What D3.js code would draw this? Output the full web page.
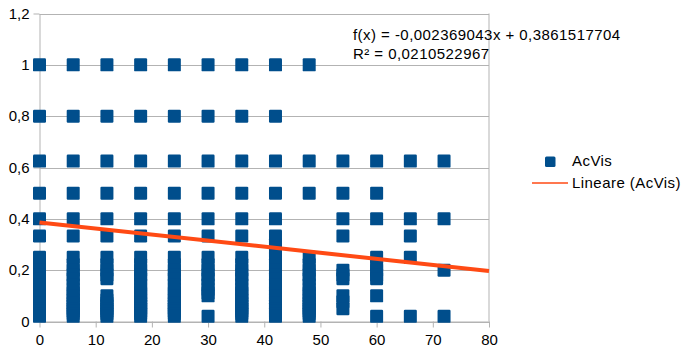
<!DOCTYPE html>
<html>
<head>
<meta charset="utf-8">
<script src="https://cdn.jsdelivr.net/npm/d3@7"></script>
<style>
	body { margin: 0; background: #fff; }
	svg { display: block; font-family: "Liberation Sans", Arial, sans-serif; }
</style>
</head>
<body>
<svg width="683" height="349"></svg>
<script>
// x positions of the AcVis columns
var xValues = [0, 6, 12, 18, 24, 30, 36, 42, 48, 54, 60, 66, 72];

// dense run of low values shared by many columns
var lowRun = [0.25, 0.2222, 0.2, 0.1818, 0.1667, 0.1429, 0.125, 0.1111, 0.1, 0.0833, 0.0714, 0.0625, 0.05, 0.04, 0.0303, 0.02];

// y values found at each column
var yValues = [
	[1, 0.8, 0.625, 0.5, 0.4, 0.333].concat(lowRun),
	[1, 0.8, 0.625, 0.5, 0.4, 0.333].concat(lowRun),
	[1, 0.8, 0.625, 0.5, 0.4, 0.333, 0.25, 0.2222, 0.2, 0.1818, 0.1667, 0.1, 0.0833, 0.0714, 0.0625, 0.05, 0.04, 0.0303, 0.02],
	[1, 0.8, 0.625, 0.5, 0.4, 0.333].concat(lowRun),
	[1, 0.8, 0.625, 0.5, 0.4, 0.333].concat(lowRun),
	[1, 0.8, 0.625, 0.5, 0.4, 0.333, 0.25, 0.2222, 0.2, 0.1818, 0.1667, 0.1429, 0.125, 0.1111, 0.1, 0.02],
	[1, 0.8, 0.625, 0.5, 0.4, 0.333].concat(lowRun),
	[1, 0.8, 0.625, 0.5, 0.4, 0.333, 0.3, 0.2857, 0.2727].concat(lowRun),
	[1, 0.625, 0.5].concat(lowRun),
	[0.625, 0.5, 0.4, 0.333, 0.2, 0.1818, 0.1667, 0.1, 0.0769, 0.05],
	[0.625, 0.5, 0.4, 0.25, 0.2222, 0.2, 0.1818, 0.1667, 0.1, 0.02],
	[0.625, 0.4, 0.333, 0.25, 0.02],
	[0.625, 0.4, 0.2, 0.02]
];

// linear trend line
var slope = -0.002369043,
	intercept = 0.3861517704;

var xTicks = [0, 10, 20, 30, 40, 50, 60, 70, 80],
	yTicks = [0, 0.2, 0.4, 0.6, 0.8, 1, 1.2];

var equationLines = ["f(x) = -0,002369043x + 0,3861517704", "R² = 0,0210522967"];
var legendLabels = ["AcVis", "Lineare (AcVis)"];

var blue = "#004e8c",
	orange = "#ff4a14",
	grid = "#b3b3b3";

var svg = d3.select("svg");

var x = d3.scaleLinear().domain([0, 80]).range([39.5, 489]),
	y = d3.scaleLinear().domain([0, 1.2]).range([321.5, 13.5]);

var locale = d3.formatLocale({decimal: ",", thousands: ".", grouping: [3], currency: ["", "€"]}),
	fmt = locale.format("~g");

// horizontal grid
svg.append("g")
	.selectAll("line")
	.data(yTicks)
	.join("line")
	.attr("x1", x.range()[0])
	.attr("x2", x.range()[1])
	.attr("y1", function(d){ return Math.round(y(d)) + 0.5; })
	.attr("y2", function(d){ return Math.round(y(d)) + 0.5; })
	.attr("stroke", grid);

// right border
svg.append("line")
	.attr("x1", x(80)).attr("x2", x(80))
	.attr("y1", y(1.2)).attr("y2", y(0))
	.attr("stroke", grid);

var yAxis = svg.append("g")
	.attr("transform", "translate(" + x.range()[0] + ",0)")
	.call(d3.axisLeft(y).tickValues(yTicks).tickFormat(fmt).tickSize(6).tickSizeOuter(0).tickPadding(4));

var xAxis = svg.append("g")
	.attr("transform", "translate(0," + y.range()[0] + ")")
	.call(d3.axisBottom(x).tickValues(xTicks).tickFormat(fmt).tickSize(6).tickSizeOuter(0).tickPadding(7));

[yAxis, xAxis].forEach(function(g){
	g.select(".domain").attr("stroke", grid);
	g.selectAll(".tick line").attr("stroke", grid);
	g.selectAll("text").attr("font-size", 15).attr("fill", "#000")
		.attr("font-family", "Liberation Sans, Arial, sans-serif");
});

// points
var points = [];
xValues.forEach(function(xv, i){
	yValues[i].forEach(function(yv){ points.push({x: xv, y: yv}); });
});

var size = 13;
svg.append("g")
	.selectAll("rect")
	.data(points)
	.join("rect")
	.attr("x", function(d){ return x(d.x) - size / 2; })
	.attr("y", function(d){ return y(d.y) - size / 2; })
	.attr("width", size)
	.attr("height", size)
	.attr("rx", 1.2)
	.attr("fill", blue);

// trend line
svg.append("line")
	.attr("x1", x(0))
	.attr("y1", y(intercept))
	.attr("x2", x(80))
	.attr("y2", y(intercept + slope * 80))
	.attr("stroke", orange)
	.attr("stroke-width", 4);

// equation
svg.append("g")
	.selectAll("text")
	.data(equationLines)
	.join("text")
	.attr("x", 353)
	.attr("y", function(d, i){ return 40 + i * 18.5; })
	.attr("font-size", 15)
	.attr("letter-spacing", 0.45)
	.attr("fill", "#000")
	.text(function(d){ return d; });

// legend
var legend = svg.append("g");
legend.append("rect")
	.attr("x", 545).attr("y", 156.5)
	.attr("width", 10.5).attr("height", 10.5)
	.attr("rx", 1.5)
	.attr("fill", blue);
legend.append("line")
	.attr("x1", 532).attr("x2", 568)
	.attr("y1", 183).attr("y2", 183)
	.attr("stroke", orange)
	.attr("stroke-width", 1.5);
legend.selectAll("text")
	.data(legendLabels)
	.join("text")
	.attr("x", 572)
	.attr("y", function(d, i){ return 166 + i * 21.5; })
	.attr("font-size", 15)
	.attr("letter-spacing", 0.45)
	.attr("fill", "#000")
	.text(function(d){ return d; });
</script>
</body>
</html>
